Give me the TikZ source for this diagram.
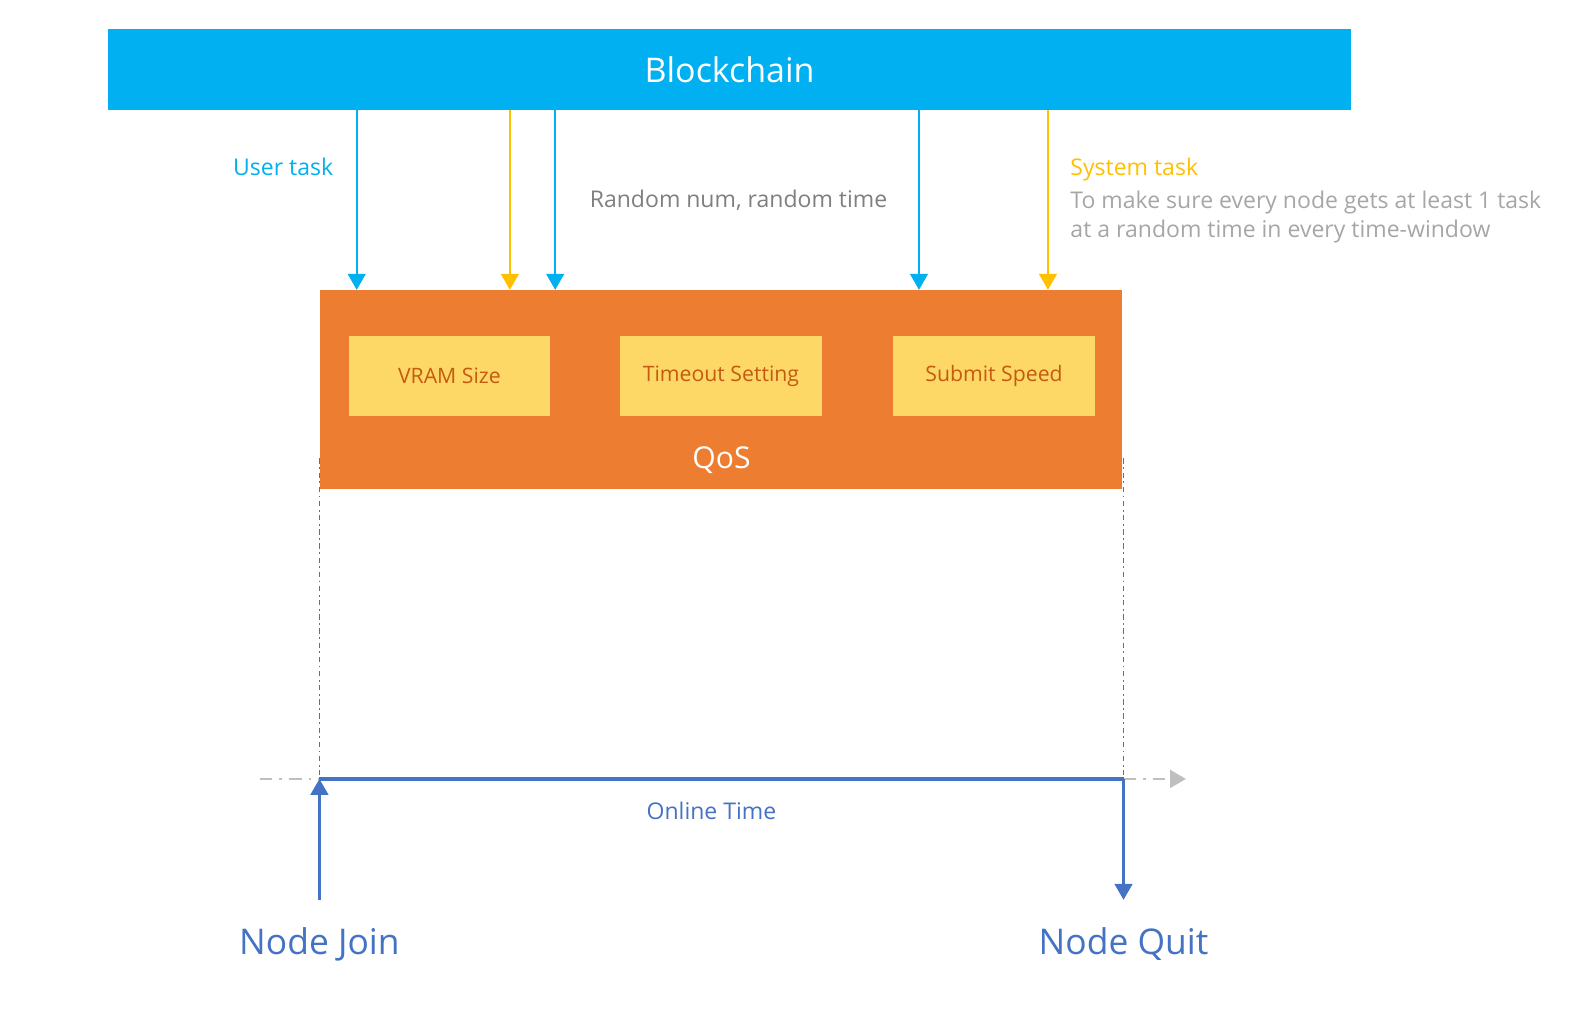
\documentclass[tikz,border=0pt]{standalone}
\usepackage{fontspec}
\setmainfont{Open Sans}
\usetikzlibrary{arrows.meta,positioning,calc}
\definecolor{chainblue}{HTML}{00B0F0}
\definecolor{qosorange}{HTML}{ED7D31}
\definecolor{paramyellow}{HTML}{FDD866}
\definecolor{paramtext}{HTML}{C55A11}
\definecolor{systask}{HTML}{FFC000}
\definecolor{lifeblue}{HTML}{4472C4}
\definecolor{notegray}{HTML}{7F7F7F}
\definecolor{lightgray}{HTML}{A6A6A6}
\definecolor{axisgray}{HTML}{BFBFBF}

\begin{document}
\begin{tikzpicture}[
    x=0.02cm,y=-0.02cm,
    font=\fontsize{13}{16.4}\selectfont,
    param/.style={fill=paramyellow,text=paramtext,font=\fontsize{12}{14}\selectfont,minimum width=4cm,minimum height=1.6cm,inner sep=0pt},
    userarr/.style={-{Triangle[length=9pt,width=10pt]},chainblue,line width=1.1pt},
    sysarr/.style={-{Triangle[length=9pt,width=10pt]},systask,line width=1.1pt},
    lifearr/.style={-{Triangle[length=9pt,width=10pt]},lifeblue,line width=1.3pt},
    dashdot/.style={dash pattern=on 7pt off 4pt on 1.5pt off 4pt,line width=1.6pt},
    bigtext/.style={font=\fontsize{20}{24}\selectfont}
  ]
    \useasboundingbox (0,0) rectangle (1568,1026);

    \node[fill=chainblue,text=white,font=\fontsize{19.2}{23}\selectfont,minimum width=24.68cm,minimum height=1.6cm,inner sep=0pt] (chain) at (724,69) {Blockchain};

    % online time (drawn first, the box covers the dotted lines)
    \coordinate (join) at (317,773);
    \coordinate (quit) at (1115,773);
    \coordinate (axisstart) at (258,773);
    \coordinate (axisend) at (1177,773);
    \draw[lifeblue,line width=0.9pt,dash pattern=on 3pt off 2pt on 1pt off 2pt] (317,455) -- (join);
    \draw[lifeblue,line width=0.9pt,dash pattern=on 3pt off 2pt on 1pt off 2pt] (1115,455) -- (quit);

    \node[fill=qosorange,minimum width=15.94cm,minimum height=3.94cm,inner sep=0pt] (qos) at (715.5,386.5) {};
    \node[param] (vram) at (446,373) {VRAM Size};
    \node[param] (timeout) at (715.5,373) {Timeout Setting};
    \node[param] (submit) at (986.5,373) {Submit Speed};
    \node[text=white,font=\fontsize{17}{20}\selectfont] (qoslbl) at (716,457) {QoS};

    \foreach \x in {354,551,912}
      \draw[userarr] (chain.south -| \x,0) -- (\x,0 |- qos.north);
    \foreach \x in {506,1040}
      \draw[sysarr] (chain.south -| \x,0) -- (\x,0 |- qos.north);

    \node[text=chainblue] (usertask) at (281,166) {User task};
    \node[text=notegray,anchor=west,inner sep=0pt] (random) at (585,199) {Random num, random time};
    \node[text=systask,anchor=west,inner sep=0pt] (systask) at (1062,168) {System task};
    \node[text=lightgray,anchor=north west,align=left,inner sep=0pt] (sysnote) at ([yshift=-5.5pt]systask.south west)
      {To make sure every node gets at least 1 task\\at a random time in every time-window};

    \draw[axisgray,dashdot] (axisstart) -- (join);
    \draw[axisgray,dashdot,-{Triangle[length=9pt,width=10pt]}] (quit) -- (axisend);
    \draw[lifeblue,line width=1.8pt] (join) -- (quit);
    \node[text=lifeblue] (online) at (706,805) {Online Time};

    \node[text=lifeblue,bigtext] (joinlbl) at (317,937) {Node Join};
    \node[text=lifeblue,bigtext] (quitlbl) at (1115,937) {Node Quit};
    \coordinate (joinfoot) at (317,893);
    \coordinate (quitfoot) at (1115,893);
    \draw[lifearr] (joinfoot) -- (join);
    \draw[lifearr] (quit) -- (quitfoot);
\end{tikzpicture}
\end{document}
